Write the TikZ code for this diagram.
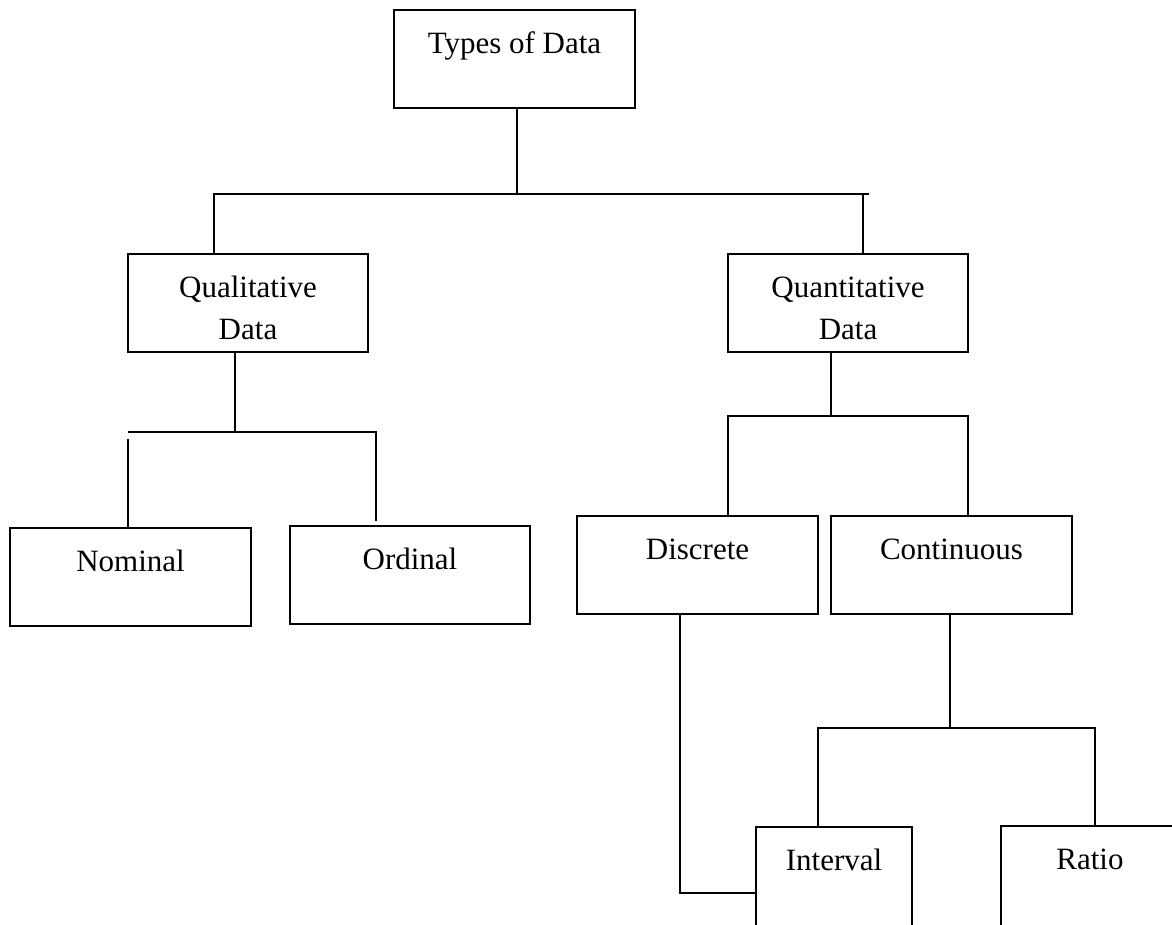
\documentclass[tikz,border=0pt]{standalone}
\usepackage{fontspec}
\setmainfont{Liberation Serif}
\usetikzlibrary{positioning}

\begin{document}
\begin{tikzpicture}[
  x=0.5pt, y=-0.5pt,
  line width=1.1pt,
  box/.style={draw, inner sep=0pt, outer sep=0pt, minimum width=120.5pt, minimum height=49pt},
  txt/.style={inner sep=0pt, align=center, text height=11pt, font={\fontsize{15.5}{21}\selectfont}},
  txttwo/.style={txt, text height=32pt}
]
\useasboundingbox (0,0) rectangle (1172,925);
\clip (0,0) rectangle (1172,925);

\node[box] (types) at (514.5,59) {};
\node[box, minimum width=120pt] (qual) at (248,303) {};
\node[box, minimum width=120pt] (quant) at (848,303) {};
\node[box] (nom) at (130.5,577) {};
\node[box, minimum width=120pt] (ord) at (410,575) {};
\node[box] (disc) at (697.5,565) {};
\node[box] (cont) at (951.5,565) {};
\node[box, minimum width=78pt, minimum height=55pt] (intv) at (834,882) {};
\node[box, minimum width=89pt, minimum height=55pt] (ratio) at (1090,881) {};

\node[txt, below=10pt of types.north] (types-t) {Types of Data};
\node[txttwo, below=10pt of qual.north] (qual-t) {Qualitative\\Data};
\node[txttwo, below=10pt of quant.north] (quant-t) {Quantitative\\Data};
\node[txt, below=10pt of nom.north] (nom-t) {Nominal};
\node[txt, below=10pt of ord.north] (ord-t) {Ordinal};
\node[txt, below=10pt of disc.north] (disc-t) {Discrete};
\node[txt, below=10pt of cont.north] (cont-t) {Continuous};
\node[txt, below=10pt of intv.north] (intv-t) {Interval};
\node[txt, below=10pt of ratio.north] (ratio-t) {Ratio};

\coordinate (t0) at (517,194);
\coordinate (b1l) at (214,194);
\coordinate (b1r) at (869,194);
\coordinate (b1q) at (863,194);
\draw (types.south -| t0) -- (t0);
\draw (b1l |- qual.north) -- (b1l) -- (b1r);
\draw (b1q) -- (b1q |- quant.north);

\coordinate (q0) at (235,432);
\coordinate (b2l) at (128,432);
\coordinate (b2r) at (376,432);
\draw (qual.south -| q0) -- (q0);
\draw (b2l) -- (b2r) -- ([yshift=2.5pt]b2r |- ord.north);
\draw ([yshift=-3.5pt]b2l) -- (b2l |- nom.north);

\coordinate (n0) at (831,416);
\coordinate (b3l) at (728,416);
\coordinate (b3r) at (968,416);
\draw (quant.south -| n0) -- (n0);
\draw (disc.north -| b3l) -- (b3l) -- (b3r) -- (b3r |- cont.north);

\coordinate (c0) at (950,728);
\coordinate (b4l) at (818,728);
\coordinate (b4r) at (1095,728);
\draw (cont.south -| c0) -- (c0);
\draw (intv.north -| b4l) -- (b4l) -- (b4r) -- (b4r |- ratio.north);

\coordinate (d0) at (680,893);
\draw (disc.south -| d0) -- (d0) -- (d0 -| intv.west);
\end{tikzpicture}
\end{document}
